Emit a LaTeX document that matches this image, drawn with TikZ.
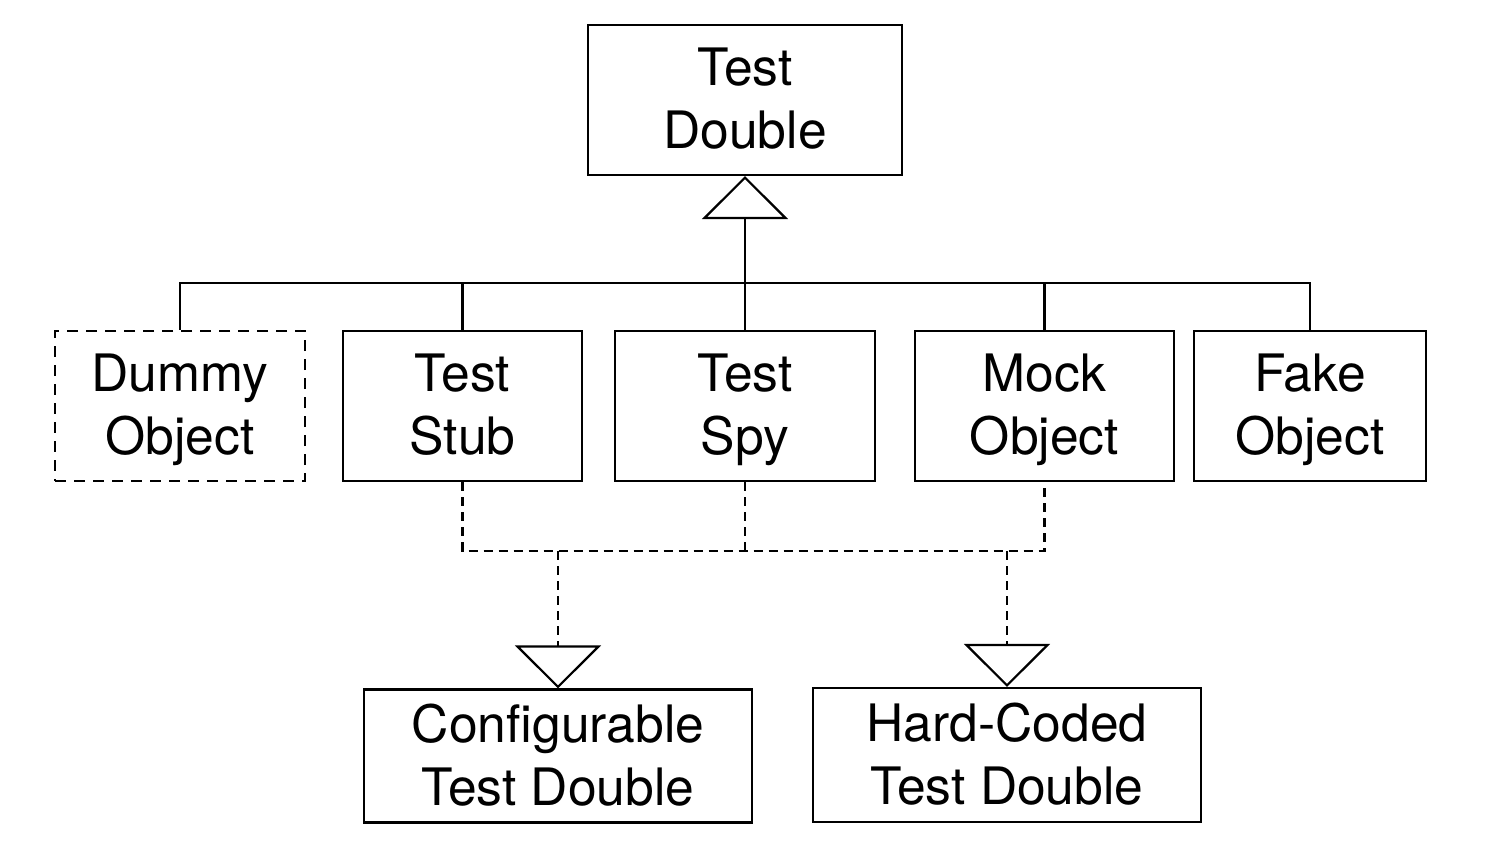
\documentclass[tikz,border=0pt]{standalone}
\usepackage{fontspec}
\setmainfont{TeX Gyre Heros}
\usetikzlibrary{arrows.meta}
\tikzset{
  cls/.style={
    draw,
    line width=1.1pt,
    align=center,
    inner sep=0pt,
    minimum height=75pt,
    font=\fontsize{25.8pt}{31.5pt}\selectfont,
    text depth=1.5pt,
    text=black
  },
  dummycls/.style={cls,dash pattern=on 5.5pt off 4pt},
  isa/.style={-{Triangle[open,length=21.5pt,width=43pt,line width=1.1pt]},line width=1.1pt,line join=miter},
  usa/.style={isa,dash pattern=on 4.5pt off 3pt},
  link/.style={line width=1.1pt},
  dlink/.style={line width=1.1pt,dash pattern=on 4.5pt off 3pt}
}
\begin{document}
\begin{tikzpicture}[x=0.5pt,y=-0.5pt]
  \useasboundingbox (0,0) rectangle (1498,862);

  \node[cls,minimum width=157pt] (double) at (745,100) {Test\\Double};

  \node[dummycls,minimum width=125pt] (dummy) at (180,406) {Dummy\\Object};
  \node[cls,minimum width=119.5pt] (stub) at (462.5,406) {Test\\Stub};
  \node[cls,minimum width=130pt] (spy) at (745,406) {Test\\Spy};
  \node[cls,minimum width=129.5pt] (mock) at (1044.5,406) {Mock\\Object};
  \node[cls,minimum width=116pt] (fake) at (1310,406) {Fake\\Object};

  \node[cls,minimum width=194pt,minimum height=66.5pt] (config) at (558,756) {Configurable\\Test Double};
  \node[cls,minimum width=194pt,minimum height=67pt] (hard) at (1007,755) {Hard-Coded\\Test Double};

  \coordinate (bus) at (745,283);
  \coordinate (dbus) at (745,551);

  % generalisation
  \draw[link] (dummy.north) |- (bus) -| (fake.north);
  \draw[link] (stub.north) -- (stub.north |- bus);
  \draw[link] (mock.north) -- (mock.north |- bus);
  \draw[isa] (spy.north) -- (double.south);

  % kinds of double
  \draw[dlink] (stub.south) |- (dbus) -| (mock.south);
  \draw[dlink] (spy.south) -- (spy.south |- dbus);
  \draw[usa] (config.north |- dbus) -- (config.north);
  \draw[usa] (hard.north |- dbus) -- (hard.north);
\end{tikzpicture}
\end{document}
